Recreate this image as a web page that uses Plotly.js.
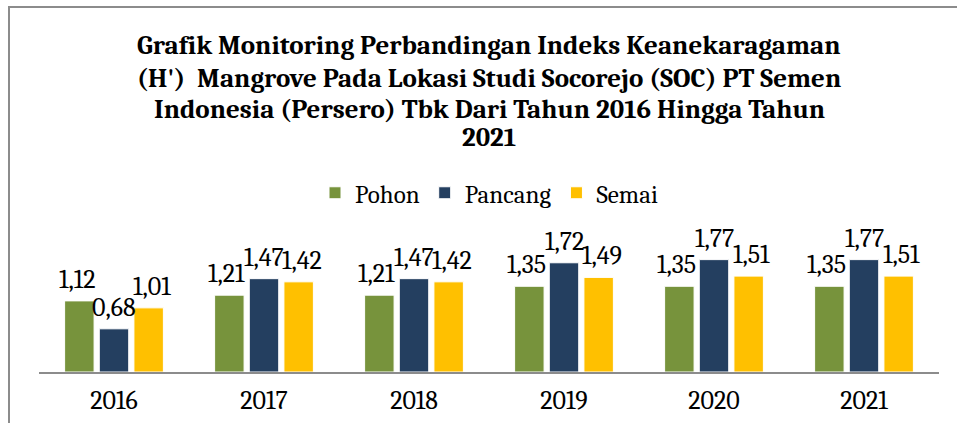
<!DOCTYPE html>
<html>
<head>
<meta charset="utf-8">
<script src="https://cdn.plot.ly/plotly-3.0.1.min.js"></script>
<style>
html,body{margin:0;padding:0;background:#fff;}
#wrap{position:relative;width:957px;height:423px;overflow:hidden;}
#chart{position:absolute;left:0;top:0;width:957px;height:423px;}
#frame{position:absolute;left:8px;top:6px;width:1000px;height:500px;border-left:2px solid #8c8c8c;border-top:2px solid #8c8c8c;pointer-events:none;}
</style>
</head>
<body>
<div id="wrap"><div id="chart"></div><div id="frame"></div></div>
<script>
var years = ['2016','2017','2018','2019','2020','2021'];
var pohon = [1.12, 1.21, 1.21, 1.35, 1.35, 1.35];
var pancang = [0.68, 1.47, 1.47, 1.72, 1.77, 1.77];
var semai = [1.01, 1.42, 1.42, 1.49, 1.51, 1.51];
var seriesNames = ['Pohon','Pancang','Semai'];
var seriesColors = ['#77933C','#243F60','#FFC000'];
var titleLines = [
  'Grafik Monitoring Perbandingan Indeks Keanekaragaman',
  '(H\')  Mangrove Pada Lokasi Studi Socorejo (SOC) PT Semen',
  'Indonesia (Persero) Tbk Dari Tahun 2016 Hingga Tahun',
  '2021'
];

var F = 'Cambria, Caladea, "Liberation Serif", "DejaVu Serif", serif';
var W = 957, H = 423, ML = 39, MR = 18, MT = 245, MB = 51;
function pyToPaper(py){ return (H - MB - py) / (H - MT - MB); }

var vals = [pohon, pancang, semai];
var traces = vals.map(function(v,i){
  return {
    type:'bar', x:years, y:v, name:seriesNames[i],
    marker:{color:seriesColors[i], line:{color:'#ffffff', width:1}},
    cliponaxis:false, hoverinfo:'none'
  };
});

var annotations = [];
var offsets = [-37.5, 0, 37.5];
vals.forEach(function(v,i){
  v.forEach(function(val,j){
    annotations.push({
      x:j, y:val, xref:'x', yref:'y',
      text:val.toFixed(2).replace('.',','),
      showarrow:false, xanchor:'center', yanchor:'bottom',
      xshift:offsets[i], yshift:4,
      font:{family:F, size:26, color:'#000'}
    });
  });
});
var titleY = [45, 78, 109, 137];
titleLines.forEach(function(t,k){
  annotations.push({
    x:0.5, xref:'paper', y:pyToPaper(titleY[k]), yref:'paper',
    text:'<b>'+t+'</b>', showarrow:false, xanchor:'center', yanchor:'middle',
    font:{family:F, size:27, color:'#000'}
  });
});

var layout = {
  width:W, height:H,
  margin:{l:ML, r:MR, t:MT, b:MB},
  paper_bgcolor:'#fff', plot_bgcolor:'#fff',
  barmode:'group', bargap:0.307, bargroupgap:0.15,
  font:{family:F, color:'#000'},
  legend:{
    orientation:'h', x:0.5, xanchor:'center', xref:'paper',
    y:1-193/423, yref:'container', yanchor:'middle',
    font:{family:F, size:25, color:'#000'},
    traceorder:'normal'
  },
  xaxis:{
    type:'category', showline:true, linecolor:'#8c8c8c', linewidth:2,
    ticks:'outside', ticklen:4, tickcolor:'rgba(0,0,0,0)',
    showgrid:false, zeroline:false,
    tickfont:{family:F, size:26, color:'#000'}
  },
  yaxis:{
    range:[0,2], visible:false, showgrid:false, zeroline:false
  },
  annotations:annotations
};

Plotly.newPlot('chart', traces, layout, {displayModeBar:false, staticPlot:true});
</script>
</body>
</html>
